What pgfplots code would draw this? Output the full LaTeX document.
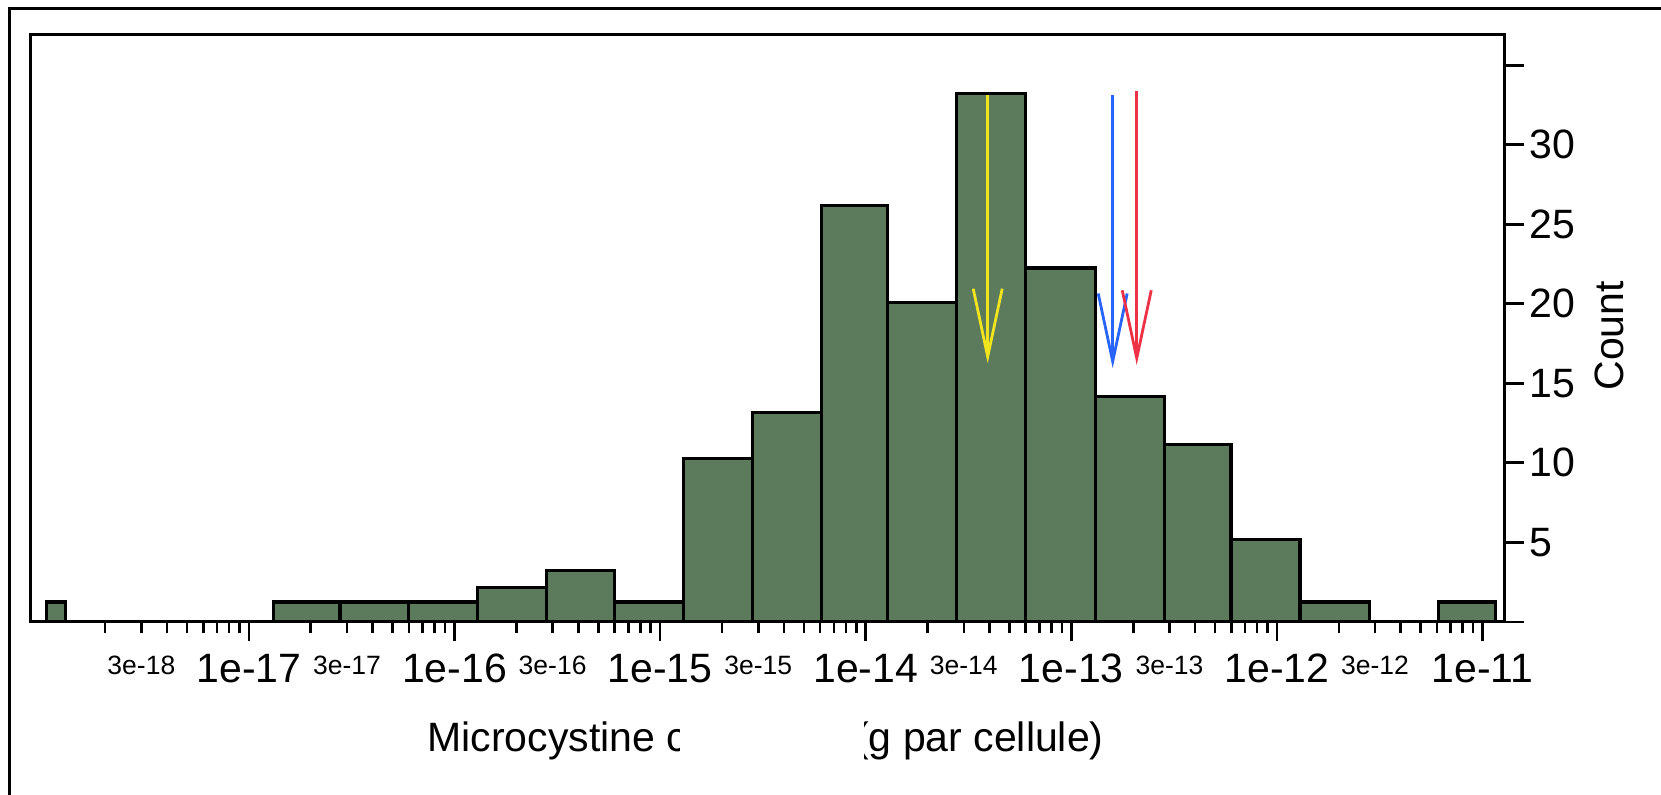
\documentclass[border=0pt]{standalone}
\usepackage{pgfplots}
\pgfplotsset{compat=1.18}
\usepackage{fontspec}
\setmainfont{Liberation Sans}
\usetikzlibrary{arrows.meta}
\definecolor{barcol}{RGB}{92,122,92}
\definecolor{ayel}{RGB}{240,228,30}
\definecolor{ablue}{RGB}{40,100,250}
\definecolor{ared}{RGB}{238,50,70}
\newcommand{\bigf}{\fontsize{20.5}{24}\selectfont}
\newcommand{\smallf}{\fontsize{13.25}{15}\selectfont}
\begin{document}
\begin{tikzpicture}
\useasboundingbox (0,0) rectangle (830.5pt,397pt);
\begin{axis}[
  at={(15.5pt,86.1pt)}, anchor=south west,
  scale only axis, width=737pt, height=293.7pt,
  xmode=log, log basis x=10,
  xmin=8.71e-19, xmax=1.285e-11,
  ymin=0, ymax=36.94,
  axis line style={line width=1.5pt},
  tick align=outside,
  xtick pos=bottom, ytick pos=right, yticklabel pos=right,
  major tick length=9.5pt, minor tick length=5.5pt,
  every tick/.style={black, line width=1.3pt},
  xtick={1e-17,1e-16,1e-15,1e-14,1e-13,1e-12,1e-11},
  xticklabels={1e-17,1e-16,1e-15,1e-14,1e-13,1e-12,1e-11},
  minor xtick={2e-18,4e-18,5e-18,6e-18,7e-18,8e-18,9e-18,
    2e-17,4e-17,5e-17,6e-17,7e-17,8e-17,9e-17,
    2e-16,4e-16,5e-16,6e-16,7e-16,8e-16,9e-16,
    2e-15,4e-15,5e-15,6e-15,7e-15,8e-15,9e-15,
    2e-14,4e-14,5e-14,6e-14,7e-14,8e-14,9e-14,
    2e-13,4e-13,5e-13,6e-13,7e-13,8e-13,9e-13,
    2e-12,4e-12,5e-12,6e-12,7e-12,8e-12,9e-12},
  extra x ticks={3e-18,3e-17,3e-16,3e-15,3e-14,3e-13,3e-12},
  extra x tick labels={3e-18,3e-17,3e-16,3e-15,3e-14,3e-13,3e-12},
  extra x tick style={major tick length=5.5pt, xticklabel style={font=\smallf, yshift=-5.3pt}},
  xticklabel style={font=\bigf, yshift=-3pt},
  ytick={0,5,10,15,20,25,30,35},
  yticklabels={{},5,10,15,20,25,30,{}},
  yticklabel style={font=\bigf, xshift=-0.8pt},
  ylabel={Count},
  ylabel style={at={(axis description cs:1.0709,0.487)}, anchor=center, font=\bigf},
]
\addplot[ybar interval, fill=barcol, draw=black, line width=1.6pt] coordinates {
(1.037e-18,1.25) (1.283e-18,0) (1.312e-17,1.25) (2.773e-17,1.25) (5.957e-17,1.25)
(1.288e-16,2.15) (2.805e-16,3.25) (5.98e-16,1.25) (1.294e-15,10.25) (2.805e-15,13.15)
(6.08e-15,26.2) (1.271e-14,20.1) (2.767e-14,33.2) (6.01e-14,22.25) (1.309e-13,14.15)
(2.831e-13,11.15) (5.97e-13,5.2) (1.294e-12,1.25) (2.831e-12,0) (6.08e-12,1.25) (1.159e-11,0)};
\addplot[ayel, line width=1.4pt, -{Straight Barb[length=34pt,width=14.5pt]}] coordinates {(3.92e-14,33.1) (3.92e-14,16.25)};
\addplot[ablue, line width=1.4pt, -{Straight Barb[length=34pt,width=14.5pt]}] coordinates {(1.589e-13,33.1) (1.589e-13,15.95)};
\addplot[ared, line width=1.4pt, -{Straight Barb[length=34pt,width=14.5pt]}] coordinates {(2.08e-13,33.4) (2.08e-13,16.15)};
\end{axis}
\draw[line width=1.5pt, line join=miter] (4.8pt,-5pt) -- (4.8pt,392.6pt) -- (840pt,392.6pt);
\node[anchor=base west, inner sep=0pt, font=\bigf] at (213.5pt,21.15pt) {Microcystine c};
\node[anchor=base east, inner sep=0pt, font=\bigf] at (552pt,21.15pt) {(g par cellule)};
\fill[white] (340pt,10pt) rectangle (432pt,42pt);
\end{tikzpicture}
\end{document}
